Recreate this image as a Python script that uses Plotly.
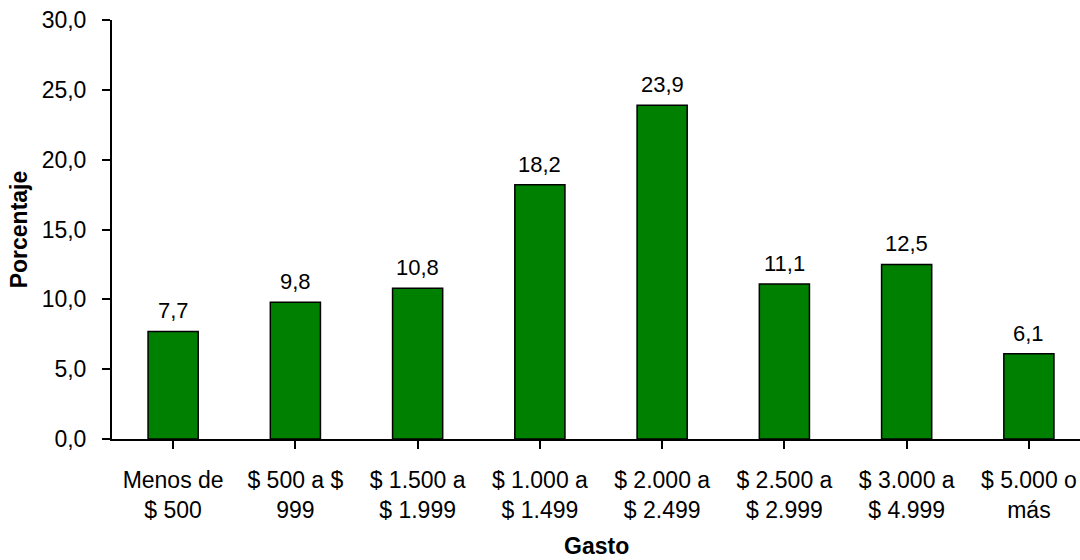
import plotly.graph_objects as go

categories = ["Menos de<br>$ 500", "$ 500 a $<br>999", "$ 1.500 a<br>$ 1.999", "$ 1.000 a<br>$ 1.499",
              "$ 2.000 a<br>$ 2.499", "$ 2.500 a<br>$ 2.999", "$ 3.000 a<br>$ 4.999", "$ 5.000 o<br>más"]
values = [7.7, 9.8, 10.8, 18.2, 23.9, 11.1, 12.5, 6.1]
y_ticks = [0, 5, 10, 15, 20, 25, 30]

FONT = "Liberation Sans, Arial, sans-serif"
idx = list(range(len(categories)))

fig = go.Figure()
fig.add_trace(go.Bar(
    x=idx, y=values,
    marker=dict(color="#008000", line=dict(color="black", width=1.5)),
    width=0.41,
    hoverinfo="skip",
))

annotations = []
for i, v in zip(idx, values):
    annotations.append(dict(
        x=i, y=v, xref="x", yref="y",
        text=f"{v:.1f}".replace(".", ","),
        showarrow=False, yanchor="bottom", yshift=6,
        font=dict(family=FONT, size=22, color="black"),
    ))
annotations.append(dict(
    x=0.5, y=-0.255, xref="paper", yref="paper",
    text="<b>Gasto</b>", showarrow=False, xanchor="center", yanchor="middle",
    font=dict(family=FONT, size=23, color="black"),
))

fig.update_layout(
    width=1080, height=560,
    margin=dict(l=112, r=0, t=20, b=121),
    paper_bgcolor="white", plot_bgcolor="white",
    showlegend=False,
    separators=",.",
    font=dict(family=FONT, size=22, color="black"),
    annotations=annotations,
)
fig.update_xaxes(
    range=[-0.5, 7.418],
    tickmode="array", tickvals=idx, ticktext=categories,
    showline=True, linecolor="black", linewidth=2,
    ticks="outside", ticklen=8, tickwidth=1.5, tickcolor="black",
    showgrid=False, zeroline=False,
    tickfont=dict(family=FONT, size=23),
    ticklabelstandoff=11,
    tickson="boundaries",
    automargin=False,
)
fig.update_yaxes(
    range=[0, 30],
    tickmode="array", tickvals=y_ticks, tickformat=".1f",
    showline=True, linecolor="black", linewidth=2,
    ticks="outside", ticklen=8, tickwidth=1.5, tickcolor="black",
    showgrid=False, zeroline=False,
    tickfont=dict(family=FONT, size=23),
    ticklabelstandoff=11,
    automargin=False,
    title=dict(text="<b>Porcentaje</b>", font=dict(family=FONT, size=23), standoff=8),
)

fig.write_html("out.html")
